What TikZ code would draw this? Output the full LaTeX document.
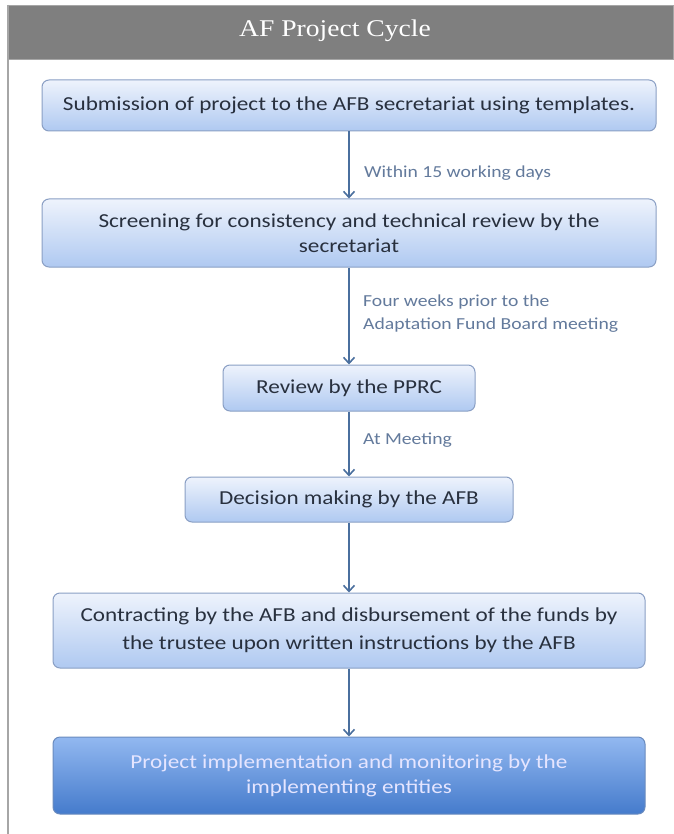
\documentclass[tikz,border=0pt]{standalone}
\usepackage{fontspec}
\setmainfont{Carlito}[FakeStretch=1.17]
\newfontfamily\titlefont{Liberation Serif}[FakeStretch=1.15]
\usetikzlibrary{arrows.meta}
\definecolor{hdrgray}{HTML}{7F7F7F}
\definecolor{framegray}{HTML}{A6A6A6}
\definecolor{boxtop}{HTML}{EEF3FC}
\definecolor{boxbot}{HTML}{AFC9F1}
\definecolor{boxline}{HTML}{8A9FC4}
\definecolor{darktop}{HTML}{92B8F0}
\definecolor{darkbot}{HTML}{457BCC}
\definecolor{darkline}{HTML}{6A8BBE}
\definecolor{txtgray}{HTML}{28303E}
\definecolor{lblblue}{HTML}{637A9C}
\definecolor{arrblue}{HTML}{4A6F9E}
\tikzset{
  stepbox/.style={draw=boxline, line width=1pt, rounded corners=7pt,
    top color=boxtop, bottom color=boxbot, text=txtgray, align=center,
    inner sep=0pt, font=\fontsize{19.8}{25}\selectfont},
  finalbox/.style={stepbox, draw=darkline, top color=darktop, bottom color=darkbot, text=white!90!blue},
  lbl/.style={anchor=west, text=lblblue, align=left, inner sep=0pt,
    font=\fontsize{16.8}{23}\selectfont},
  arr/.style={draw=arrblue, line width=1.6pt, -{Straight Barb[length=6pt,width=11pt,line width=1.6pt]}},
}
\begin{document}
\begin{tikzpicture}[x=1pt,y=-1pt]
\useasboundingbox (0,0) rectangle (673,834);
\fill[white] (0,0) rectangle (673,834);
% frame
\draw[framegray, line width=1.5pt] (8,5) -- (8,834);
\node[fill=hdrgray, draw=framegray, line width=0.8pt, minimum width=665pt, minimum height=54pt,
  inner sep=0pt] (hdr) at (340.5,32) {};
\node[inner sep=0pt, text=white, font=\titlefont\fontsize{24}{28}\selectfont] (ttl) at (335,31) {AF Project Cycle};
% boxes
\node[stepbox, minimum width=614pt, minimum height=51pt] (b1) at (349,105.5)
  {Submission of project to the AFB secretariat using templates.};
\node[stepbox, minimum width=614pt, minimum height=68pt] (b2) at (349,233)
  {Screening for consistency and technical review by the\\secretariat};
\node[stepbox, minimum width=252pt, minimum height=46pt] (b3) at (349,388)
  {Review by the PPRC};
\node[stepbox, minimum width=328pt, minimum height=45pt] (b4) at (349,499.5)
  {Decision making by the AFB};
\node[stepbox, minimum width=592pt, minimum height=75pt, font=\fontsize{19.8}{28}\selectfont] (b5) at (349,630.5)
  {Contracting by the AFB and disbursement of the funds by\\the trustee upon written instructions by the AFB};
\node[finalbox, minimum width=592pt, minimum height=77pt] (b6) at (349,775.5)
  {Project implementation and monitoring by the\\implementing entities};
% arrows
\draw[arr] (b1) -- (b2);
\draw[arr] (b2) -- (b3);
\draw[arr] (b3) -- (b4);
\draw[arr] (b4) -- (b5);
\draw[arr] (b5) -- (b6);
% labels
\node[lbl] (l1) at (364,173) {Within 15 working days};
\node[lbl] (l2) at (363,313.5) {Four weeks prior to the\\Adaptation Fund Board meeting};
\node[lbl] (l3) at (363,440) {At Meeting};
\end{tikzpicture}
\end{document}
